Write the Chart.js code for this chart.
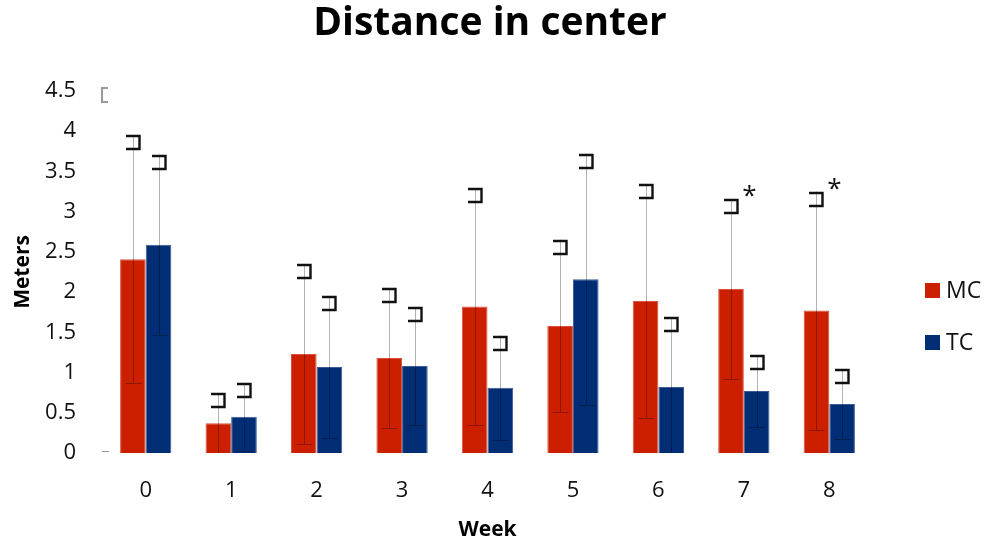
<!DOCTYPE html>
<html>
<head>
<meta charset="utf-8">
<title>Distance in center</title>
<script src="https://cdn.jsdelivr.net/npm/chart.js@4"></script>
<style>
  html, body { margin: 0; padding: 0; background: #fff; }
  #wrap { width: 990px; height: 546px; }
</style>
</head>
<body>
<div id="wrap"><canvas id="chart-distance" width="990" height="546"></canvas></div>
<script>
// Data (mean +/- SD per week)
const weeks = ['0', '1', '2', '3', '4', '5', '6', '7', '8'];
const mcMean = [2.41, 0.37, 1.23, 1.18, 1.82, 1.58, 1.89, 2.04, 1.77];
const mcSd = [1.54, 0.37, 1.12, 0.87, 1.47, 1.07, 1.45, 1.12, 1.48];
const tcMean = [2.59, 0.45, 1.07, 1.08, 0.81, 2.16, 0.82, 0.77, 0.61];
const tcSd = [1.12, 0.42, 0.88, 0.73, 0.65, 1.56, 0.87, 0.45, 0.43];
const mcStars = ['', '', '', '', '', '', '', '*', '*'];
const tcStars = ['', '', '', '', '', '', '', '', ''];
const chartTitle = 'Distance in center';

const FONT = "'Open Sans', 'Noto Sans', sans-serif";

// error bars: grey line, small cap at the low end, bracket glyph on top
const errorBars = {
  id: 'errorBars',
  afterDatasetsDraw(chart) {
    const ctx = chart.ctx;
    const y = chart.scales.y;
    chart.data.datasets.forEach((ds, di) => {
      const meta = chart.getDatasetMeta(di);
      meta.data.forEach((bar, i) => {
        const m = ds.data[i], sd = ds.sd[i];
        const lowV = m - sd;
        const yHigh = y.getPixelForValue(m + sd);
        const yLow = y.getPixelForValue(Math.max(0, lowV));
        const x = Math.round(bar.x) + 0.5;
        ctx.save();
        ctx.strokeStyle = 'rgba(0,0,0,0.3)';
        ctx.lineWidth = 1;
        ctx.beginPath();
        ctx.moveTo(x, yHigh);
        ctx.lineTo(x, yLow);
        if (lowV > 0) {
          ctx.moveTo(x - 8, Math.round(yLow) + 0.5);
          ctx.lineTo(x + 8, Math.round(yLow) + 0.5);
        }
        ctx.stroke();
        // bracket glyph
        ctx.strokeStyle = '#111';
        ctx.lineWidth = 2.4;
        const t = Math.round(yHigh) + 1;
        ctx.beginPath();
        ctx.moveTo(x - 7.5, t);
        ctx.lineTo(x + 6, t);
        ctx.lineTo(x + 6, t + 13);
        ctx.lineTo(x - 7.5, t + 13);
        ctx.stroke();
        const star = ds.stars[i];
        if (star) {
          ctx.fillStyle = '#111';
          ctx.font = '26px ' + FONT;
          ctx.textAlign = 'center';
          ctx.textBaseline = 'middle';
          ctx.fillText(star, x + 18, t - 3);
        }
        ctx.restore();
      });
    });
  }
};

// title over the whole canvas, little grey marks on the left edge, legend at the right
const sideMarks = {
  id: 'sideMarks',
  afterDraw(chart) {
    const ctx = chart.ctx;
    const y = chart.scales.y;
    const left = chart.chartArea.left;
    const yTop = Math.round(y.getPixelForValue(4.5));
    const yZero = Math.round(y.getPixelForValue(0));
    ctx.save();
    ctx.fillStyle = '#000';
    ctx.font = 'bold 39px ' + FONT;
    ctx.textAlign = 'center';
    ctx.textBaseline = 'middle';
    ctx.fillText(chartTitle, 490, 24);

    ctx.strokeStyle = '#999';
    ctx.lineWidth = 2;
    ctx.beginPath();
    ctx.moveTo(left + 5, yTop - 3);
    ctx.lineTo(left - 1, yTop - 3);
    ctx.lineTo(left - 1, yTop + 11);
    ctx.lineTo(left + 5, yTop + 11);
    ctx.stroke();
    ctx.lineWidth = 1;
    ctx.beginPath();
    ctx.moveTo(left - 1, yZero - 1.5);
    ctx.lineTo(left + 6, yZero - 1.5);
    ctx.stroke();

    // legend
    const rows = [291, 343];
    chart.data.datasets.forEach((ds, i) => {
      ctx.fillStyle = ds.backgroundColor;
      ctx.fillRect(925, rows[i] - 8, 15, 15);
      ctx.fillStyle = '#111';
      ctx.font = '23px ' + FONT;
      ctx.textAlign = 'left';
      ctx.textBaseline = 'middle';
      ctx.fillText(ds.label, 946, rows[i]);
    });
    ctx.restore();
  }
};

function renderDistanceChart() {
  const el = document.getElementById('chart-distance');
  return new Chart(el, {
    type: 'bar',
    data: {
      labels: weeks,
      datasets: [
        { label: 'MC', data: mcMean, sd: mcSd, stars: mcStars,
          backgroundColor: '#cc1f00', borderColor: '#d9533d', borderWidth: 1 },
        { label: 'TC', data: tcMean, sd: tcSd, stars: tcStars,
          backgroundColor: '#002d73', borderColor: '#3b5b96', borderWidth: 1 },
      ]
    },
    options: {
      responsive: false,
      animation: false,
      layout: { padding: { left: 0, right: 118, top: 91, bottom: 0 } },
      categoryPercentage: 0.6,
      barPercentage: 1.0,
      plugins: {
        legend: { display: false },
        tooltip: { enabled: false },
        title: { display: false }
      },
      scales: {
        x: {
          grid: { display: false, drawTicks: false },
          border: { display: false },
          ticks: { color: '#111', padding: 25, font: { family: FONT, size: 22 } },
          title: {
            display: true, text: 'Week', color: '#000',
            font: { family: FONT, size: 21, weight: 'bold' },
            padding: { top: 4, bottom: 3 }
          },
          afterFit: s => { s.height = 93; }
        },
        y: {
          min: 0, max: 4.5,
          grid: { display: false, drawTicks: false },
          border: { display: false },
          ticks: {
            stepSize: 0.5, color: '#111', padding: 27,
            font: { family: FONT, size: 22 },
            callback: v => String(Math.round(v * 10) / 10)
          },
          title: {
            display: true, text: 'Meters', color: '#000',
            font: { family: FONT, size: 21, weight: 'bold' },
            padding: { top: 10, bottom: 0 }
          },
          afterFit: s => { s.width = 103; }
        }
      }
    },
    plugins: [errorBars, sideMarks]
  });
}

renderDistanceChart();
</script>
</body>
</html>
